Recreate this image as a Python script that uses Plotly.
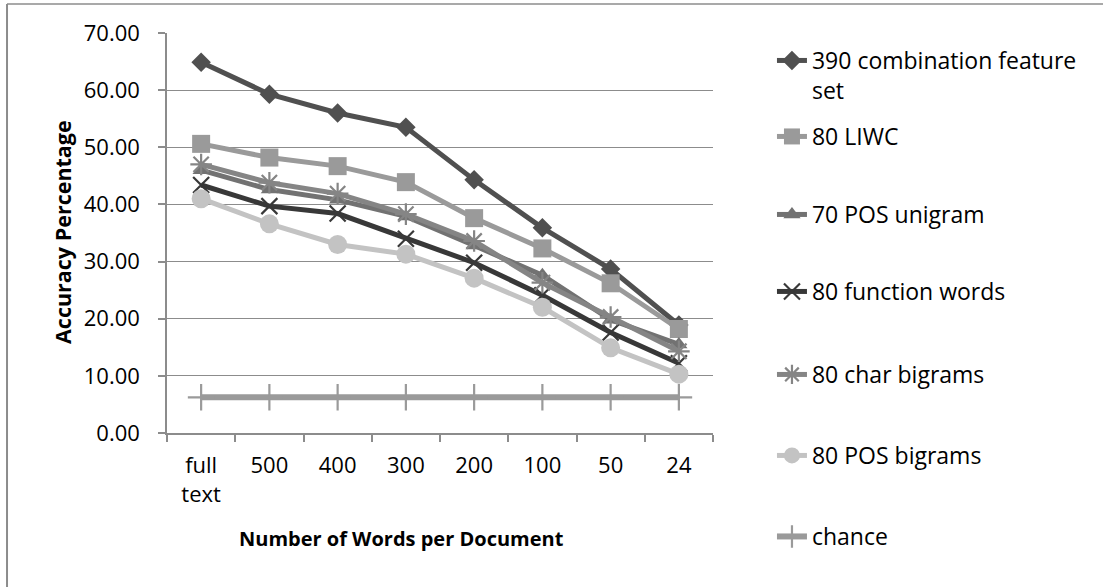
import plotly.graph_objects as go

# Document lengths (x categories) and accuracy per feature set
categories = ["full<br>text", "500", "400", "300", "200", "100", "50", "24"]

combination_390 = [64.9, 59.3, 56.0, 53.5, 44.3, 35.9, 28.7, 18.9]
liwc_80 = [50.6, 48.2, 46.7, 43.9, 37.6, 32.3, 26.2, 18.2]
pos_unigram_70 = [46.0, 42.6, 40.8, 37.9, 32.8, 27.6, 19.8, 15.5]
function_words_80 = [43.4, 39.7, 38.4, 34.0, 29.8, 24.1, 17.6, 12.2]
char_bigrams_80 = [47.0, 43.8, 41.9, 38.3, 33.6, 26.3, 20.3, 14.3]
pos_bigrams_80 = [41.0, 36.6, 33.0, 31.3, 27.1, 22.0, 14.9, 10.3]
chance = [6.25] * len(categories)

series = [
    ("390 combination feature<br>set", combination_390, "#505050", "diamond", 15, None),
    ("80 LIWC", liwc_80, "#9a9a9a", "square", 18, None),
    ("70 POS unigram", pos_unigram_70, "#727272", "triangle-up", 15, None),
    ("80 function words", function_words_80, "#383838", "x-thin", 16, 2.2),
    ("80 char bigrams", char_bigrams_80, "#858585", "asterisk", 18, 2.2),
    ("80 POS bigrams", pos_bigrams_80, "#c3c3c3", "circle", 19, None),
    ("chance", chance, "#9a9a9a", "cross-thin", 19, 2.2),
]

# Vertical centre (pixels from top) of each legend entry's first text line
legend_rows = [61, 137, 215, 292, 375, 456, 537]

fig = go.Figure()
legend_layout = {}
for i, (name, vals, color, symbol, size, mlw) in enumerate(series):
    marker = dict(symbol=symbol, size=size, color=color)
    if mlw is not None:
        marker["line"] = dict(color=color, width=mlw)
    key = "legend" if i == 0 else f"legend{i + 1}"
    fig.add_trace(go.Scatter(
        x=categories, y=vals, name=name, mode="lines+markers",
        line=dict(color=color, width=6 if name == "chance" else 5),
        marker=marker, legend=key, cliponaxis=False,
    ))
    top_px = legend_rows[i] - 22
    legend_layout[key] = dict(
        x=1.108, y=(433 - top_px) / 400, xanchor="left", yanchor="top",
        font=dict(size=23), valign="top", itemwidth=30,
        bgcolor="rgba(0,0,0,0)",
    )

grid = "#8c8c8c"
font = "Open Sans, DejaVu Sans, sans-serif"

fig.update_layout(
    width=1103, height=587,
    margin=dict(l=167, r=390, t=33, b=154),
    paper_bgcolor="white", plot_bgcolor="white",
    font=dict(family=font, size=22, color="#000000"),
    showlegend=True,
    xaxis=dict(
        type="category", range=[-0.5, 7.5],
        showline=True, linecolor=grid, linewidth=1.5,
        ticks="outside", ticklen=7, tickcolor=grid, tickwidth=1.5,
        tickson="boundaries", showgrid=False, zeroline=False,
        ticklabelstandoff=12, tickfont=dict(size=22),
    ),
    yaxis=dict(
        range=[0, 70], dtick=10, tickformat=".2f",
        showline=True, linecolor=grid, linewidth=1.5,
        ticks="outside", ticklen=7, tickcolor=grid, tickwidth=1.5,
        showgrid=True, gridcolor=grid, gridwidth=1.2, zeroline=False,
        ticklabelstandoff=14, tickfont=dict(size=22),
    ),
    annotations=[
        dict(text="<b>Number of Words per Document</b>", xref="paper", yref="paper",
             x=0.43, y=-0.2625, xanchor="center", yanchor="middle",
             showarrow=False, font=dict(size=20)),
        dict(text="<b>Accuracy Percentage</b>", xref="paper", yref="paper",
             x=-0.1923, y=0.5025, xanchor="center", yanchor="middle",
             textangle=-90, showarrow=False, font=dict(size=21.5)),
    ],
    shapes=[
        dict(type="line", xref="paper", yref="paper", x0=-0.293, x1=1.8,
             y0=1.0725, y1=1.0725, line=dict(color="#8c8c8c", width=1.5)),
        dict(type="line", xref="paper", yref="paper", x0=-0.293, x1=-0.293,
             y0=1.0725, y1=-0.45, line=dict(color="#8c8c8c", width=2)),
    ],
    **legend_layout,
)

fig.write_html("out.html")
